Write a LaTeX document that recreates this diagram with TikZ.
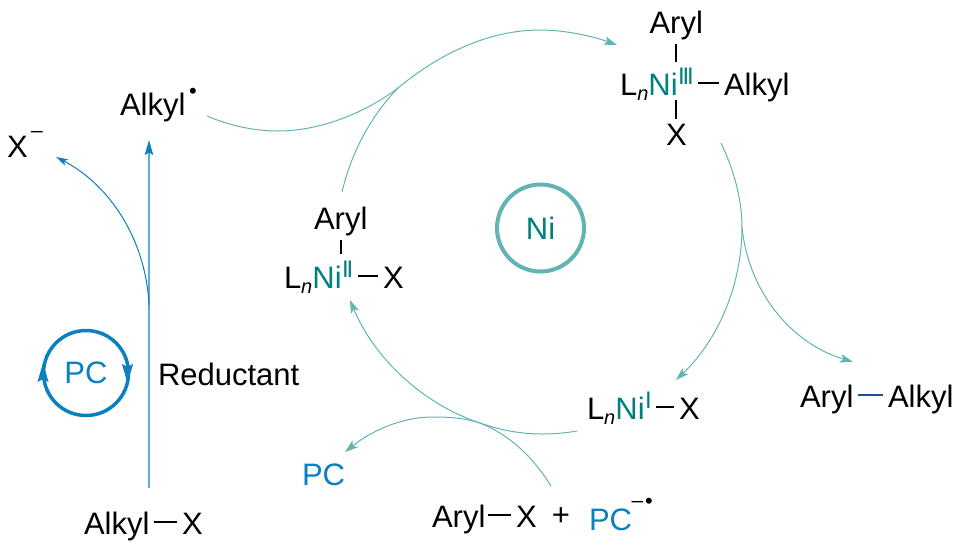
\documentclass[tikz,border=0pt]{standalone}
\usepackage{fontspec}
\usepackage{graphicx}
\setmainfont{Liberation Sans}
\usetikzlibrary{arrows.meta}
\definecolor{nitxt}{HTML}{007F7F}
\definecolor{nicurve}{HTML}{62B4B2}
\definecolor{pcblue}{HTML}{0A80C0}
\definecolor{pcline}{HTML}{62ABD6}
\definecolor{bondblue}{HTML}{1F4E8C}
\newcommand{\bigsize}{\fontsize{31}{34}\selectfont}
\newcommand{\ssub}[1]{\raisebox{-5pt}{\fontsize{20}{20}\selectfont\itshape #1}}
\newcommand{\oxid}[1]{\kern.5pt\raisebox{11pt}{\fontsize{24}{24}\selectfont\color{nitxt}#1}}
\newcommand{\IIbars}{I\kern-2.2pt I}
\newcommand{\IIIbars}{I\kern-2.2pt I\kern-2.2pt I}
\newcommand{\LnNi}[1]{L\ssub{n}{\color{nitxt}Ni}\oxid{#1}}
\newcommand{\mkbond}[6][bond]{\coordinate (#2a) at (#3,#4); \coordinate (#2b) at (#5,#6); \draw[#1] (#2a) -- (#2b);}
\tikzset{
  x=1pt,y=-1pt,
  lab/.style={anchor=base west,inner sep=0pt,outer sep=0pt,font=\bigsize,text=black},
  pclab/.style={lab,text=pcblue},
  supdash/.style={anchor=center,inner sep=0pt,outer sep=0pt,font=\fontsize{21}{21}\selectfont},
  supdot/.style={anchor=center,inner sep=0pt,outer sep=0pt,font=\fontsize{22}{22}\selectfont},
  bond/.style={draw=black,line width=1.2pt},
  bluebond/.style={draw=bondblue,line width=1.3pt},
  nihead/.style={-{Stealth[length=13pt,width=8.5pt,inset=3pt]}},
  curve/.style={draw=nicurve,line width=1pt},
  pccurve/.style={draw=pcblue,line width=1pt},
  pcvert/.style={draw=pcline,line width=1.4pt},
  pchead/.style={-{Stealth[length=15pt,width=8.5pt,inset=2.5pt,color=pcblue]}},
  ringhead/.style={draw=pcblue,line width=1pt,-{Stealth[length=19pt,width=11pt,inset=3pt]}},
  ring/.style={circle,inner sep=0pt,outer sep=0pt,font=\bigsize},
}
\begin{document}
\begin{tikzpicture}
\useasboundingbox (0,0) rectangle (963,550);
% labels
\node[lab] (alkylrad) at (120,115.5) {Alkyl};
\node[supdot] (alkyldot) at (193,93.5) {•};
\node[lab] (xminus) at (7,157) {X};
\node[supdash] (xminusdash) at (37,134) {–};
\node[lab] (aryl3) at (649.5,33) {Aryl};
\node[lab] (ni3) at (620,95) {\LnNi{\IIIbars}};
\node[lab] (alkyl3) at (724,95) {Alkyl};
\node[lab] (x3) at (666,145.5) {X};
\node[lab] (aryl2) at (314,229) {Aryl};
\node[lab] (ni2) at (284,288) {\LnNi{\IIbars}};
\node[lab] (x2) at (383,288) {X};
\node[lab] (ni1) at (587,419) {\LnNi{I}};
\node[lab] (x1) at (679,419) {X};
\node[lab] (arylp) at (800,407) {Aryl};
\node[lab] (alkylp) at (888,407) {Alkyl};
\node[lab] (arylx) at (432,527) {Aryl};
\node[lab] (xarx) at (516,527) {X};
\node[lab,anchor=center] (plus) at (561,517) {+};
\node[pclab] (pcrad) at (589,530) {PC};
\node[supdash] (pcdash) at (637.5,504) {–};
\node[supdot] (pcdot) at (649,503.5) {•};
\node[pclab] (pcout) at (302,485) {PC};
\node[lab] (alkylx) at (84,534) {Alkyl};
\node[lab] (xalk) at (182,534) {X};
\node[lab] (reductant) at (158,385) {Reductant};
% rings
\node[ring,draw=nicurve,line width=4pt,minimum size=87pt,text=nitxt] (niring) at (540.5,228) {Ni};
\node[ring,draw=pcblue,line width=3.5pt,minimum size=85pt,text=pcblue] (pcring) at (86,373) {\raisebox{-1.5pt}{PC}};
\coordinate (pcLa) at (43,384); \coordinate (pcLb) at (43,363);
\coordinate (pcRa) at (127.5,362); \coordinate (pcRb) at (127.5,383);
\draw[ringhead] (pcLa) -- (pcLb);
\draw[ringhead] (pcRa) -- (pcRb);
% bonds
\mkbond{bA}{676}{44}{676}{62}
\mkbond{bB}{676}{100}{676}{119}
\mkbond{bC}{698}{83}{719}{83}
\mkbond{bD}{341}{240}{341}{254}
\mkbond{bE}{358}{276}{378}{276}
\mkbond{bF}{656}{407}{674}{407}
\mkbond{bG}{488}{515}{511}{515}
\mkbond{bH}{154}{522}{177}{522}
\mkbond[bluebond]{bI}{858}{395}{883}{395}
% blue arrows
\coordinate (vstart) at (149,488);
\coordinate (vend) at (149,140);
\coordinate (vbranch) at (149,305);
\coordinate (xend) at (56,157);
\draw[pcvert,pchead] (vstart) -- (vend);
\draw[pccurve,-{Stealth[length=12pt,width=7pt,inset=3pt]}] (vbranch) .. controls (146,240) and (110,185) .. (xend);
% Ni curves
\coordinate (aStart) at (207,116);
\coordinate (aMerge) at (398,88);
\coordinate (aEnd) at (617,45);
\coordinate (bStart) at (342,192);
\coordinate (cStart) at (721,143);
\coordinate (cSplit) at (742,227);
\coordinate (cEnd) at (676,380);
\coordinate (dEnd) at (853,362);
\coordinate (eStart) at (577,431);
\coordinate (eMerge) at (480,423);
\coordinate (eEnd) at (350,300);
\coordinate (fStart) at (551,486);
\coordinate (fEnd) at (345,452);
\draw[curve] (aStart) .. controls (228,125) and (253,131) .. (278,131) .. controls (320,131) and (365,113) .. (aMerge);
\draw[curve] (bStart) .. controls (352,150) and (372,115) .. (aMerge);
\draw[curve,nihead] (aMerge) .. controls (440,53) and (490,30) .. (540,30) .. controls (565,30) and (592,36) .. (aEnd);
\draw[curve] (cStart) .. controls (733,168) and (742,198) .. (cSplit);
\draw[curve,nihead] (cSplit) .. controls (742,285) and (718,340) .. (cEnd);
\draw[curve,nihead] (cSplit) .. controls (748,290) and (790,343) .. (dEnd);
\draw[curve,nihead] (eStart) .. controls (565,433) and (554,434) .. (543,434) .. controls (520,434) and (500,430) .. (eMerge) .. controls (425,405) and (375,360) .. (eEnd);
\draw[curve,nihead] (fStart) .. controls (533,457) and (510,435) .. (eMerge) .. controls (465,418) and (450,417) .. (433,417) .. controls (400,417) and (370,432) .. (fEnd);
\end{tikzpicture}
\end{document}
